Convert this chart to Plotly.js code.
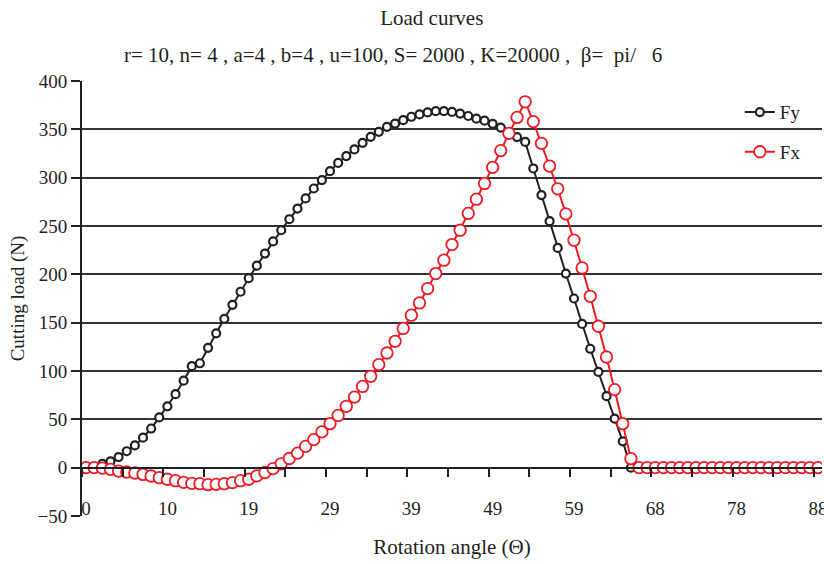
<!DOCTYPE html>
<html>
<head>
<meta charset="utf-8">
<script src="https://cdn.plot.ly/plotly-3.0.1.min.js"></script>
<style>html,body{margin:0;padding:0;background:#fff;}#chart{width:824px;height:564px;}</style>
</head>
<body>
<div id="chart"></div>
<script>
// Tick labels (rotation angle) shown every 10th sample
var tickLabels = ["0", "10", "19", "29", "39", "49", "59", "68", "78", "88"];

// Fy series (N)
var fy = [0, 1, 4, 6.5, 11, 17, 23, 31, 40.5, 52,
  63.5, 76, 90, 105, 108, 124, 139, 154, 168.5, 182,
  196, 209, 221.5, 234, 245.6, 257, 268, 278.5, 288.8, 297.5,
  306.7, 315.3, 322.3, 329.2, 336, 342.2, 347.4, 352.6, 356, 359.5,
  363, 365.4, 367.5, 368.8, 368.8, 368, 366.3, 363.8, 361, 359,
  355.7, 351.8, 347, 342, 337, 309.5, 282, 255, 227.3, 200.8,
  175, 148.7, 123, 99, 74, 50.7, 27.2, 0, 0, 0,
  0, 0, 0, 0, 0, 0, 0, 0, 0, 0,
  0, 0, 0, 0, 0, 0, 0, 0, 0, 0, 0];

// Fx series (N)
var fx = [0, 0, -0.5, -1.8, -3.5, -4.5, -5.5, -7, -8.6, -10.4,
  -12, -13.5, -15.2, -16.3, -16.6, -17.6, -17.3, -16.6, -15.5, -13.5,
  -12, -8.5, -5, -1, 4, 9.5, 15, 22, 29, 37,
  45.5, 54, 63.5, 73, 84, 94.5, 106.6, 118.6, 130.7, 144,
  157.7, 170.4, 185.3, 200.8, 214.6, 230.8, 245.6, 263, 277.7, 294,
  310.6, 328, 345.8, 362.3, 378.5, 358, 335.5, 312, 288.5, 262.5,
  235.3, 206.6, 177.3, 146.3, 114.5, 80.7, 45.5, 9.3, 0, 0,
  0, 0, 0, 0, 0, 0, 0, 0, 0, 0,
  0, 0, 0, 0, 0, 0, 0, 0, 0, 0, 0];

var seriesNames = ["Fy", "Fx"];

var idx = fy.map(function (_, i) { return i; });
var tickIdx = tickLabels.map(function (_, k) { return k * 10; });

var FONT = "Liberation Serif, Times New Roman, serif";
var INK = "#231f20";

var traces = [
  {
    x: idx, y: fy, name: seriesNames[0], type: "scatter", mode: "lines+markers",
    legendgroup: "a",
    line: {color: INK, width: 2},
    marker: {symbol: "circle", size: 8, color: "#ffffff", line: {color: INK, width: 2.2}}
  },
  {
    x: idx, y: fx, name: seriesNames[1], type: "scatter", mode: "lines+markers",
    legendgroup: "b",
    line: {color: "#ed1c24", width: 2},
    marker: {symbol: "circle", size: 11.5, color: "#ffffff", line: {color: "#ed1c24", width: 1.8}}
  }
];

var layout = {
  width: 824, height: 564,
  paper_bgcolor: "#ffffff", plot_bgcolor: "#ffffff",
  font: {family: FONT, size: 19, color: INK},
  margin: {l: 82, r: 2, t: 81, b: 48, pad: 0},
  showlegend: true,
  legend: {
    x: 0.889, y: 0.972, xanchor: "left", yanchor: "top",
    bgcolor: "rgba(0,0,0,0)", borderwidth: 0,
    font: {family: FONT, size: 19, color: INK},
    tracegroupgap: 12, traceorder: "grouped"
  },
  title: {
    text: "Load curves",
    font: {family: FONT, size: 21, color: INK},
    x: 0.524, xanchor: "center", y: 0.968, yanchor: "middle", xref: "container", yref: "container"
  },
  annotations: [{
    text: "r= 10, n= 4 , a=4 , b=4 , u=100, S= 2000 , K=20000 ,  \u03b2=  pi/   6",
    xref: "paper", yref: "paper", x: 0.42, y: 1.06, xanchor: "center", yanchor: "middle",
    showarrow: false, font: {family: FONT, size: 21, color: INK}
  }],
  xaxis: {
    range: [-0.5, 90.5],
    anchor: "free", position: 50 / 450,
    showline: true, linecolor: INK, linewidth: 2,
    showgrid: false, zeroline: false,
    tickmode: "array", tickvals: tickIdx, ticktext: tickLabels,
    ticks: "", ticklabelstandoff: 24, ticklabeloverflow: "allow",
    tickfont: {family: FONT, size: 19, color: INK},
    minor: {tick0: -0.5, dtick: 5, ticks: "outside", ticklen: 8, tickwidth: 2, tickcolor: INK, showgrid: false},
    title: {text: "Rotation angle (\u0398)", font: {family: FONT, size: 21, color: INK}, standoff: 20}
  },
  yaxis: {
    range: [-50, 400], dtick: 50, tick0: 0,
    showline: true, linecolor: INK, linewidth: 2,
    showgrid: true, gridcolor: "#333333", gridwidth: 2,
    zeroline: false,
    ticks: "outside", ticklen: 9, tickwidth: 2, tickcolor: INK,
    tickfont: {family: FONT, size: 19, color: INK},
    title: {text: "Cutting load (N)", font: {family: FONT, size: 19, color: INK}, standoff: 8}
  }
};

Plotly.newPlot("chart", traces, layout, {displayModeBar: false, staticPlot: true});
</script>
</body>
</html>
